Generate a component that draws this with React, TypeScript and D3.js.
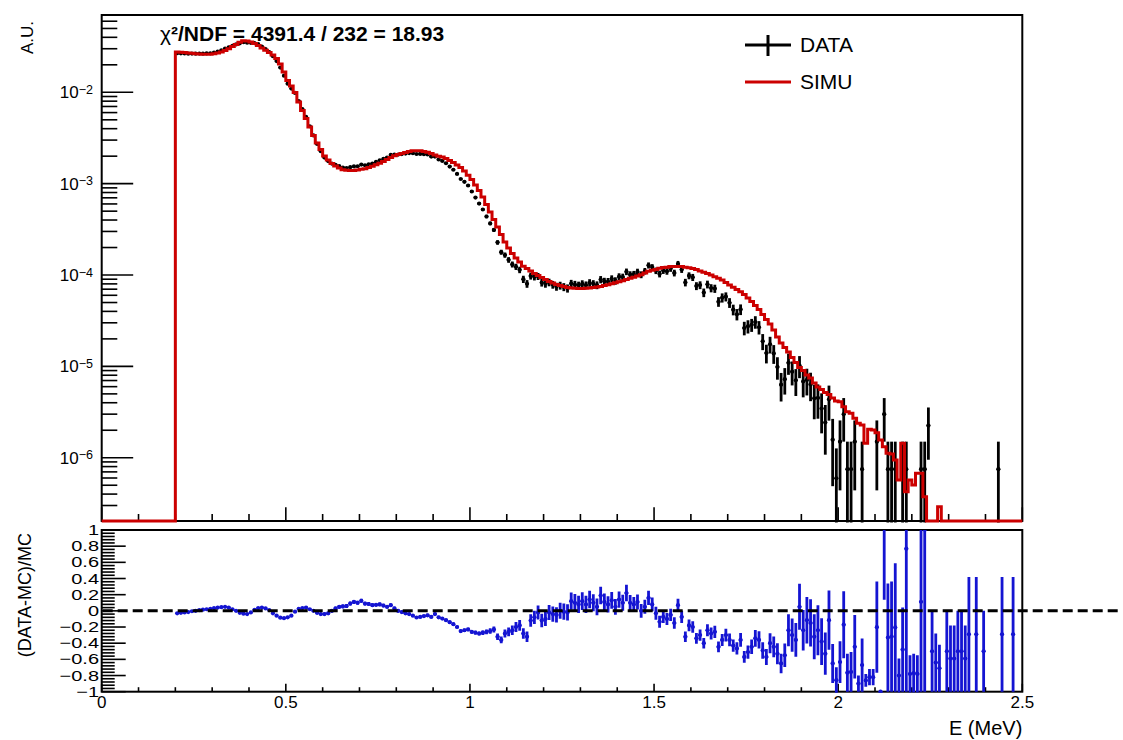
import React from "react";
import * as d3 from "d3";

// Spectrum binning
const BIN_WIDTH = 0.01; // MeV
const N_BINS = 250;
const FIRST_BIN = 20; // first filled bin (0.20 MeV)
const TAIL_FIRST_BIN = 200; // tail bins are given as raw counts
const EVENT_WEIGHT = 7.5e-7; // A.U. per data event

// Simulated spectrum (A.U.), bins from 0.20 MeV upward
const MC = [
  2.76e-2, 2.74e-2, 2.72e-2, 2.69e-2, 2.67e-2, 2.65e-2, 2.63e-2, 2.61e-2, 2.61e-2, 2.61e-2,
  2.64e-2, 2.69e-2, 2.76e-2, 2.87e-2, 2.99e-2, 3.17e-2, 3.34e-2, 3.53e-2, 3.67e-2, 3.64e-2,
  3.55e-2, 3.42e-2, 3.25e-2, 3.05e-2, 2.88e-2, 2.73e-2, 2.56e-2, 2.34e-2, 2.04e-2, 1.67e-2,
  1.35e-2, 1.17e-2, 9.95e-3, 7.83e-3, 6.32e-3, 5.17e-3, 4.17e-3, 3.37e-3, 2.79e-3, 2.36e-3,
  2.01e-3, 1.82e-3, 1.66e-3, 1.56e-3, 1.48e-3, 1.42e-3, 1.40e-3, 1.39e-3, 1.39e-3, 1.41e-3,
  1.44e-3, 1.46e-3, 1.50e-3, 1.55e-3, 1.61e-3, 1.67e-3, 1.75e-3, 1.84e-3, 1.93e-3, 2.02e-3,
  2.08e-3, 2.14e-3, 2.20e-3, 2.25e-3, 2.29e-3, 2.30e-3, 2.29e-3, 2.25e-3, 2.21e-3, 2.14e-3,
  2.06e-3, 2.00e-3, 1.96e-3, 1.89e-3, 1.79e-3, 1.70e-3, 1.60e-3, 1.50e-3, 1.38e-3, 1.24e-3,
  1.11e-3, 9.66e-4, 8.41e-4, 7.14e-4, 5.91e-4, 4.89e-4, 4.05e-4, 3.35e-4, 2.78e-4, 2.30e-4,
  1.98e-4, 1.72e-4, 1.54e-4, 1.39e-4, 1.25e-4, 1.18e-4, 1.11e-4, 1.04e-4, 9.87e-5, 9.39e-5,
  8.93e-5, 8.49e-5, 8.18e-5, 7.87e-5, 7.68e-5, 7.48e-5, 7.30e-5, 7.21e-5, 7.15e-5, 7.13e-5,
  7.13e-5, 7.17e-5, 7.21e-5, 7.28e-5, 7.39e-5, 7.50e-5, 7.68e-5, 7.85e-5, 8.05e-5, 8.23e-5,
  8.42e-5, 8.64e-5, 8.91e-5, 9.20e-5, 9.46e-5, 9.75e-5, 1.01e-4, 1.05e-4, 1.10e-4, 1.13e-4,
  1.15e-4, 1.19e-4, 1.21e-4, 1.22e-4, 1.24e-4, 1.24e-4, 1.24e-4, 1.24e-4, 1.22e-4, 1.20e-4,
  1.18e-4, 1.15e-4, 1.11e-4, 1.07e-4, 1.04e-4, 1.00e-4, 9.60e-5, 9.20e-5, 8.82e-5, 8.28e-5,
  7.77e-5, 7.33e-5, 6.94e-5, 6.57e-5, 6.12e-5, 5.60e-5, 5.13e-5, 4.64e-5, 4.19e-5, 3.69e-5,
  3.26e-5, 2.91e-5, 2.50e-5, 2.10e-5, 1.80e-5, 1.61e-5, 1.44e-5, 1.25e-5, 1.10e-5, 9.71e-6,
  9.01e-6, 8.04e-6, 7.46e-6, 6.57e-6, 5.94e-6, 5.58e-6, 5.17e-6, 4.92e-6, 4.50e-6, 4.17e-6,
  4.10e-6, 3.62e-6, 3.19e-6, 3.06e-6, 2.70e-6, 2.38e-6, 2.28e-6, 1.44e-6, 2.05e-6, 2.01e-6,
  1.88e-6, 1.56e-6, 1.32e-6, 1.12e-6, 1.10e-6, 9.44e-7, 5.70e-7, 1.44e-6, 4.24e-7, 5.70e-7,
  5.02e-7, 6.75e-7, 6.75e-7, 3.74e-7, 0, 0, 0, 2.91e-7,
];

// (DATA-MC)/MC for the bins 0.20 - 2.00 MeV
const RATIO = [
  -0.03, -0.025, -0.02, -0.015, -0.005, 0.0, 0.01, 0.015, 0.02, 0.025,
  0.033, 0.04, 0.045, 0.05, 0.04, 0.02, 0.0, -0.025, -0.035, -0.04,
  -0.02, 0.012, 0.035, 0.04, 0.03, 0.01, -0.03, -0.06, -0.085, -0.09,
  -0.08, -0.06, -0.01, 0.025, 0.035, 0.04, 0.02, 0.0, -0.025, -0.04,
  -0.04, -0.03, 0.0, 0.03, 0.05, 0.055, 0.06, 0.09, 0.11, 0.1,
  0.124, 0.09, 0.085, 0.07, 0.075, 0.08, 0.065, 0.05, 0.07, 0.03,
  0.0, -0.015, -0.03, -0.04, -0.06, -0.082, -0.075, -0.065, -0.055, -0.075,
  -0.04, -0.08, -0.095, -0.115, -0.14, -0.165, -0.2, -0.25, -0.24, -0.23,
  -0.26, -0.27, -0.28, -0.27, -0.26, -0.25, -0.23, -0.32, -0.36, -0.28,
  -0.26, -0.24, -0.2, -0.18, -0.28, -0.32, -0.12, -0.08, -0.02, -0.12,
  -0.1, -0.02, -0.04, -0.05, 0.0, -0.01, -0.02, 0.12, 0.1, 0.08,
  0.12, 0.08, 0.14, 0.1, 0.05, 0.19, 0.11, 0.08, 0.13, 0.05,
  0.14, 0.1, 0.22, 0.1, 0.08, 0.11, 0.0, 0.05, 0.16, 0.08,
  -0.03, -0.135, -0.075, -0.1, -0.05, -0.15, 0.07, -0.075, -0.32, -0.18,
  -0.2, -0.34, -0.3, -0.4, -0.24, -0.28, -0.26, -0.445, -0.36, -0.3,
  -0.36, -0.43, -0.465, -0.36, -0.57, -0.51, -0.445, -0.34, -0.36, -0.49,
  -0.57, -0.4, -0.445, -0.53, -0.65, -0.55, -0.24, -0.3, -0.36, 0.05,
  -0.24, -0.115, -0.15, -0.32, -0.24, -0.38, -0.53, -0.115, -0.65, -0.857,
];

// Data events per bin above 2.00 MeV
const TAIL_COUNTS = [
  2, 4, 1, 1, 2, 0, 1, 0, 0, 0,
  2, 0, 4, 1, 1, 1, 0, 1, 1, 0,
  0, 0, 1, 1, 3, 0, 0, 0, 0, 0,
  0, 0, 0, 0, 0, 0, 0, 0, 0, 0,
  0, 0, 0, 1, 0, 0, 0, 0, 0, 0,
];

// Ratio points in the tail: [E (MeV), ratio, error]
const RATIO_TAIL_EXTRA: [number, number, number][] = [
  [2.055, -0.9, 0.1], [2.075, -0.86, 0.08], [2.085, -0.82, 0.1], [2.095, -0.82, 0.1],
  [2.165, -0.8, 0.21], [2.195, -0.78, 0.23], [2.205, -0.77, 0.24], [2.215, -0.78, 0.23],
  [2.255, -0.5, 0.5], [2.265, -0.64, 0.36], [2.275, -0.71, 0.29], [2.295, -0.5, 0.5],
  [2.305, -0.59, 0.41], [2.315, -0.59, 0.41], [2.325, -0.5, 0.5], [2.335, -0.5, 0.5],
  [2.345, -0.59, 0.41], [2.355, -0.29, 0.71], [2.375, -0.29, 0.71], [2.395, -0.5, 0.5],
  [2.445, -0.29, 0.71], [2.475, -0.29, 0.71],
];

const X_MAJOR = [0, 0.5, 1, 1.5, 2, 2.5];
const X_LABELS = ["0", "0.5", "1", "1.5", "2", "2.5"];
const Y_DECADES = [-6, -5, -4, -3, -2];
const RATIO_TICKS = [1, 0.8, 0.6, 0.4, 0.2, 0, -0.2, -0.4, -0.6, -0.8, -1];

const FONT = "'Liberation Sans', Arial, Helvetica, sans-serif";
const RED = "#cc0000";
const BLUE = "#1414d2";

const fmtRatio = (v: number) => {
  if (v === 0) return "0";
  const s = Math.abs(v).toString();
  return v < 0 ? "\u2212" + s : s;
};

export default function App() {
  const L = 101.7, R = 1022.3;
  const T1 = 15, B1 = 521;
  const T2 = 530, B2 = 691.7;

  const x = d3.scaleLinear().domain([0, 2.5]).range([L, R]);
  const y = d3.scaleLog().domain([2.03e-7, 0.0702]).range([B1, T1]);
  const yr = d3.scaleLinear().domain([-1, 1]).range([B2, T2]);

  const mcAt = (k: number) =>
    k >= FIRST_BIN && k - FIRST_BIN < MC.length ? MC[k - FIRST_BIN] : 0;

  // Simulation histogram as a step line; empty bins sit on the lower frame edge
  let simPath = `M${x(0)},${B1}`;
  for (let k = 0; k < N_BINS; k++) {
    const v = mcAt(k);
    const yy = v > 0 ? Math.min(B1, y(v)) : B1;
    simPath += `L${x(k * BIN_WIDTH)},${yy}L${x((k + 1) * BIN_WIDTH)},${yy}`;
  }

  // Data points with Poisson errors
  type Pt = { k: number; v: number; err: number };
  const dataPts: Pt[] = [];
  RATIO.forEach((r, i) => {
    const v = MC[i] * (1 + r);
    dataPts.push({ k: FIRST_BIN + i, v, err: Math.sqrt(v * EVENT_WEIGHT) });
  });
  TAIL_COUNTS.forEach((n, j) => {
    if (n > 0)
      dataPts.push({ k: TAIL_FIRST_BIN + j, v: n * EVENT_WEIGHT, err: Math.sqrt(n) * EVENT_WEIGHT });
  });

  // Ratio points
  const ratioPts: Pt[] = [];
  RATIO.forEach((r, i) => {
    ratioPts.push({ k: FIRST_BIN + i, v: r, err: Math.sqrt(((1 + r) * EVENT_WEIGHT) / MC[i]) });
  });
  const extraByBin = new Map<number, [number, number, number]>();
  RATIO_TAIL_EXTRA.forEach((e) => extraByBin.set(Math.round(e[0] / BIN_WIDTH - 0.5), e));
  for (let j = 0; j < TAIL_COUNTS.length; j++) {
    const k = TAIL_FIRST_BIN + j;
    const ex = extraByBin.get(k);
    const m = mcAt(k);
    const n = TAIL_COUNTS[j];
    if (ex) ratioPts.push({ k, v: ex[1], err: ex[2] });
    else if (m > 0) {
      if (n > 0) ratioPts.push({ k, v: (n * EVENT_WEIGHT) / m - 1, err: (Math.sqrt(n) * EVENT_WEIGHT) / m });
      else ratioPts.push({ k, v: -1, err: 0 });
    }
  }

  const cx = (k: number) => x((k + 0.5) * BIN_WIDTH);

  // Tick positions
  const xMinor = d3.range(0, 2.5001, 0.1).filter((v) => Math.abs(v * 2 - Math.round(v * 2)) > 1e-6);
  const yMinor: number[] = [];
  for (let d = -7; d <= -2; d++)
    for (let m = 2; m <= 9; m++) {
      const v = m * Math.pow(10, d);
      if (v > 2.03e-7 && v < 0.0702) yMinor.push(v);
    }
  const rMinor = d3.range(-1, 1.0001, 0.04).filter((v) => Math.abs(v * 5 - Math.round(v * 5)) > 1e-6);

  return (
    <svg
      width={1123}
      height={740}
      style={{ position: "absolute", left: 0, top: 0, background: "#fff" }}
      fontFamily={FONT}
    >
      <defs>
        <clipPath id="topFrame">
          <rect x={L} y={T1} width={R - L} height={B1 - T1 + 1.5} />
        </clipPath>
        <clipPath id="ratioFrame">
          <rect x={L} y={T2} width={R - L} height={B2 - T2 + 1} />
        </clipPath>
      </defs>
      <rect x={0} y={0} width={1123} height={740} fill="#fff" />

      {/* ---------- upper pad ---------- */}
      <rect x={L} y={T1} width={R - L} height={B1 - T1} fill="none" stroke="#000" strokeWidth={2} />
      {Y_DECADES.map((d) => (
        <line key={"yM" + d} x1={L} x2={L + 31.5} y1={y(Math.pow(10, d))} y2={y(Math.pow(10, d))} stroke="#000" strokeWidth={1.6} />
      ))}
      {yMinor.map((v, i) => (
        <line key={"ym" + i} x1={L} x2={L + 15.6} y1={y(v)} y2={y(v)} stroke="#000" strokeWidth={1.6} />
      ))}
      {X_MAJOR.map((v) => (
        <line key={"xM" + v} x1={x(v)} x2={x(v)} y1={B1} y2={B1 - 13.7} stroke="#000" strokeWidth={1.6} />
      ))}
      {xMinor.map((v, i) => (
        <line key={"xm" + i} x1={x(v)} x2={x(v)} y1={B1} y2={B1 - 7} stroke="#000" strokeWidth={1.6} />
      ))}
      {Y_DECADES.map((d) => (
        <text key={"yl" + d} x={93} y={y(Math.pow(10, d)) + 6} fontSize={17} textAnchor="end" fill="#000">
          10
          <tspan fontSize={12.5} dy={-4.5}>
            {"\u2212" + Math.abs(d)}
          </tspan>
        </text>
      ))}
      <text transform={`translate(33,21) rotate(-90)`} fontSize={17} textAnchor="end" fill="#000">
        A.U.
      </text>

      <g clipPath="url(#topFrame)">
        {dataPts.map((p) => {
          const yc = y(p.v);
          const yHi = y(p.v + p.err);
          const yLo = p.v - p.err > 1e-9 ? y(p.v - p.err) : B1 + 10;
          return (
            <g key={"d" + p.k}>
              <line x1={cx(p.k)} x2={cx(p.k)} y1={yHi} y2={yLo} stroke="#000" strokeWidth={2.8} />
              <line x1={x(p.k * BIN_WIDTH)} x2={x((p.k + 1) * BIN_WIDTH)} y1={yc} y2={yc} stroke="#000" strokeWidth={1.6} />
              <circle cx={cx(p.k)} cy={yc} r={2.1} fill="#000" />
            </g>
          );
        })}
      </g>
      <path d={simPath} fill="none" stroke={RED} strokeWidth={3} strokeLinejoin="miter" />

      {/* legend */}
      <line x1={745} x2={791} y1={45} y2={45} stroke="#000" strokeWidth={3} />
      <line x1={768} x2={768} y1={35} y2={56} stroke="#000" strokeWidth={3} />
      <text x={800} y={52} fontSize={21} fill="#000">DATA</text>
      <line x1={745} x2={791} y1={82} y2={82} stroke={RED} strokeWidth={3} />
      <text x={800} y={88.5} fontSize={21} fill="#000">SIMU</text>

      <text x={160} y={41} fontSize={21} fontWeight="bold" fill="#000">
        <tspan fontWeight="normal">{"\u03c7"}</tspan>
        {"\u00b2/NDF = 4391.4 / 232 = 18.93"}
      </text>

      {/* ---------- ratio pad ---------- */}
      <rect x={L} y={T2} width={R - L} height={B2 - T2} fill="none" stroke="#000" strokeWidth={2} />
      {RATIO_TICKS.map((v) => (
        <line key={"rM" + v} x1={L} x2={L + 24} y1={yr(v)} y2={yr(v)} stroke="#000" strokeWidth={1.6} />
      ))}
      {rMinor.map((v, i) => (
        <line key={"rm" + i} x1={L} x2={L + 13} y1={yr(v)} y2={yr(v)} stroke="#000" strokeWidth={1.6} />
      ))}
      {X_MAJOR.map((v) => (
        <line key={"bxM" + v} x1={x(v)} x2={x(v)} y1={B2} y2={B2 - 8} stroke="#000" strokeWidth={1.6} />
      ))}
      {xMinor.map((v, i) => (
        <line key={"bxm" + i} x1={x(v)} x2={x(v)} y1={B2} y2={B2 - 4.5} stroke="#000" strokeWidth={1.6} />
      ))}
      {RATIO_TICKS.map((v) => (
        <text
          key={"rl" + v}
          transform={`translate(99,${yr(v)}) scale(1,0.74)`}
          fontSize={20}
          textAnchor="end"
          dominantBaseline="central"
          fill="#000"
        >
          {fmtRatio(v)}
        </text>
      ))}
      {X_MAJOR.map((v, i) => (
        <text key={"xl" + v} x={x(v)} y={708.3} fontSize={17} textAnchor="middle" fill="#000">
          {X_LABELS[i]}
        </text>
      ))}
      <text x={R} y={735} fontSize={20} textAnchor="end" fill="#000">
        E (MeV)
      </text>
      <text transform={`translate(31,533) rotate(-90)`} fontSize={18} textAnchor="end" fill="#000">
        (DATA-MC)/MC
      </text>

      <g clipPath="url(#ratioFrame)">
        {ratioPts.map((p) => {
          const yc = yr(p.v);
          return (
            <g key={"r" + p.k}>
              {p.err > 0 && (
                <line x1={cx(p.k)} x2={cx(p.k)} y1={yr(p.v + p.err)} y2={yr(p.v - p.err)} stroke={BLUE} strokeWidth={2.8} />
              )}
              <line x1={x(p.k * BIN_WIDTH)} x2={x((p.k + 1) * BIN_WIDTH)} y1={yc} y2={yc} stroke={BLUE} strokeWidth={1.6} />
              <circle cx={cx(p.k)} cy={yc} r={2.1} fill={BLUE} />
            </g>
          );
        })}
      </g>
      <line x1={L + 1} x2={1121} y1={yr(0)} y2={yr(0)} stroke="#000" strokeWidth={3} strokeDasharray="10 5" />
    </svg>
  );
}
